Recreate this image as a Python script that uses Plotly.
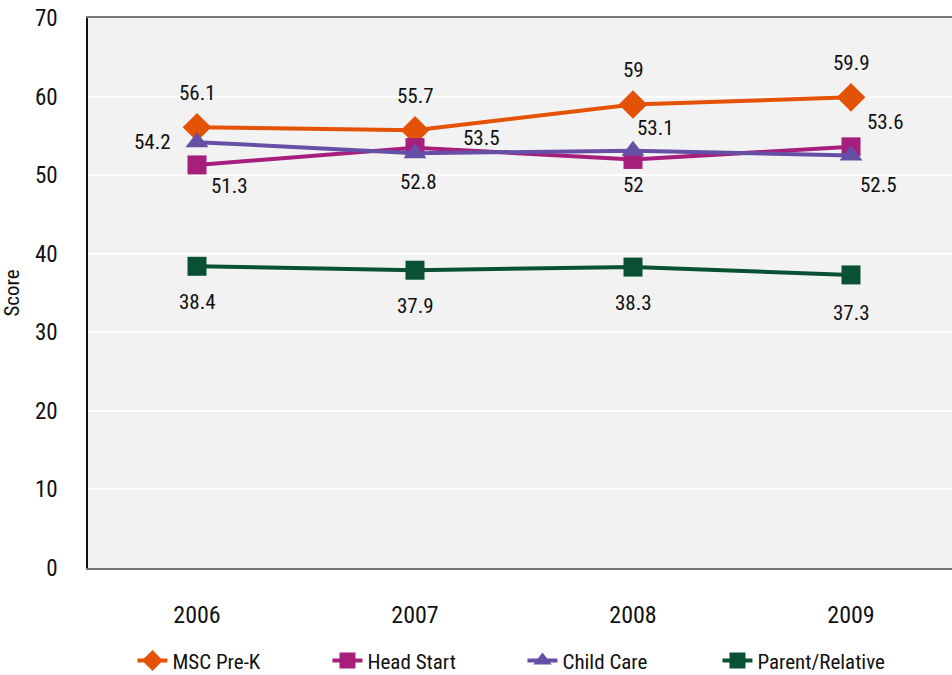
import plotly.graph_objects as go

years = ["2006", "2007", "2008", "2009"]
msc_prek = [56.1, 55.7, 59, 59.9]
head_start = [51.3, 53.5, 52, 53.6]
child_care = [54.2, 52.8, 53.1, 52.5]
parent_relative = [38.4, 37.9, 38.3, 37.3]

series = [
    ("MSC Pre-K", msc_prek, "#E35205", "diamond", 22),
    ("Head Start", head_start, "#A61F7D", "square", 19),
    ("Child Care", child_care, "#6650A6", "triangle-up", 20),
    ("Parent/Relative", parent_relative, "#0A5134", "square", 19),
]

# label offsets (pixels) for each series/point
offsets = [
    [(0, -34), (0, -34), (0, -34), (0, -34)],
    [(32, 21), (66, -10), (0, 26), (34, -25)],
    [(-45, 0), (3, 29), (22, -23), (27, 29)],
    [(0, 36), (0, 36), (0, 36), (0, 38)],
]

FONT = "Liberation Sans Narrow, Roboto Condensed, Arial Narrow, Roboto, sans-serif"

fig = go.Figure()
annots = []
for (name, vals, color, sym, size), offs in zip(series, offsets):
    fig.add_trace(go.Scatter(
        x=years, y=vals, name=name, mode="lines+markers",
        line=dict(color=color, width=4),
        marker=dict(symbol=sym, size=size, color=color),
    ))
    for i, (v, (dx, dy)) in enumerate(zip(vals, offs)):
        annots.append(dict(
            x=i, y=v, xref="x", yref="y", text=str(v), showarrow=False,
            xshift=dx, yshift=-dy,
            font=dict(family=FONT, size=21, color="#111111"),
        ))

fig.update_layout(
    width=960, height=675,
    margin=dict(l=88, r=0, t=18, b=107),
    paper_bgcolor="white",
    plot_bgcolor="#F2F2F2",
    font=dict(family=FONT, size=21, color="#111111"),
    annotations=annots,
    showlegend=True,
    legend=dict(orientation="h", xref="paper", x=0.051, xanchor="left",
                yref="container", y=0.021, yanchor="middle",
                font=dict(size=21), entrywidth=150, traceorder="normal"),
    xaxis=dict(
        type="category", range=[-0.5, 3.5], showgrid=False,
        showline=True, linecolor="#777777", linewidth=2, mirror=True,
        ticks="", ticklabelstandoff=24, tickfont=dict(size=24),
    ),
    yaxis=dict(
        range=[0, 70], dtick=10, showgrid=True, gridcolor="white", gridwidth=1.5,
        showline=True, linecolor="#111111", linewidth=1.5, automargin=True,
        zeroline=False, ticks="", ticklabelstandoff=24, tickfont=dict(size=23),
        ticklabeloverflow="allow",
        title=dict(text="Score", font=dict(size=21), standoff=12),
    ),
)

fig.write_html(
    "out.html",
    config={"displayModeBar": False},
    post_script="document.body.style.margin='0';document.body.style.overflow='hidden';",
)
